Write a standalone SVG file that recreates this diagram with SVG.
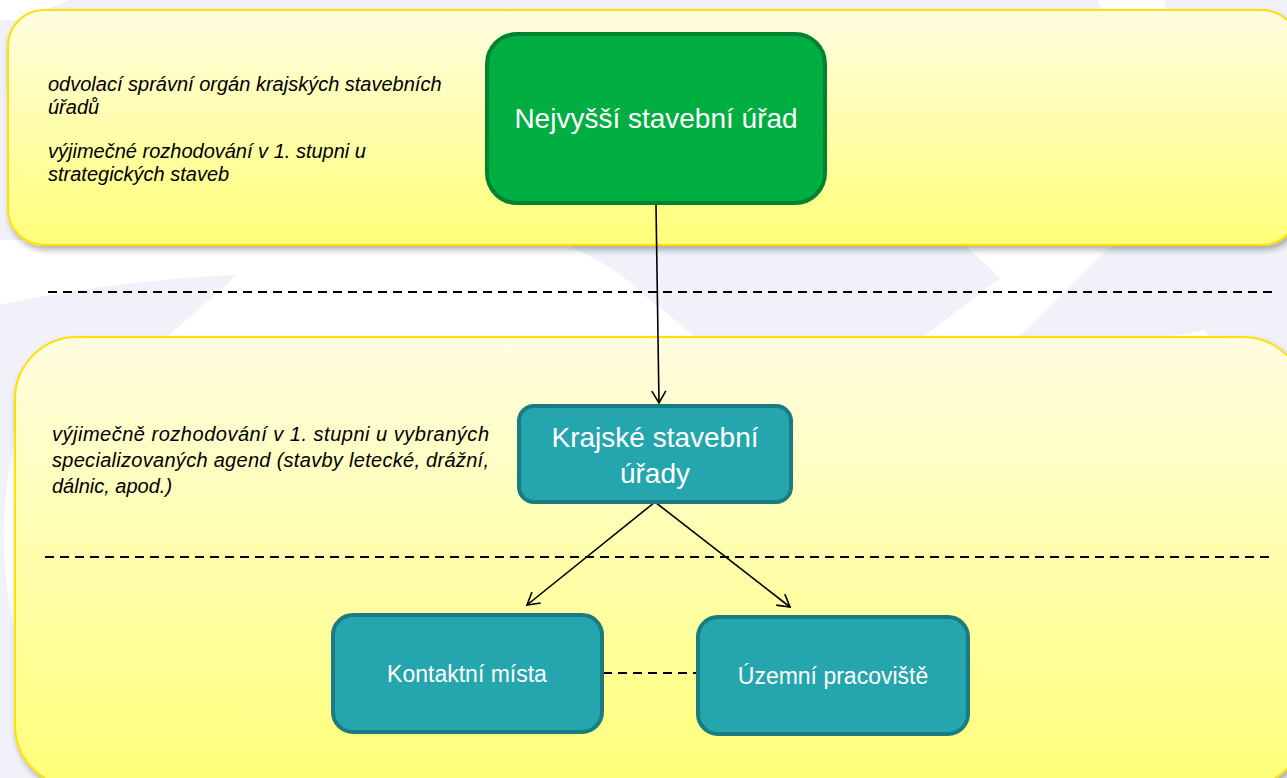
<svg xmlns="http://www.w3.org/2000/svg" width="1287" height="778" viewBox="0 0 1287 778">
<defs>
<linearGradient id="yel" x1="0" y1="0" x2="0" y2="1">
<stop offset="0" stop-color="#fffde0"/>
<stop offset="1" stop-color="#ffff78"/>
</linearGradient>
<filter id="sh" x="-5%" y="-5%" width="110%" height="115%">
<feDropShadow dx="2" dy="4" stdDeviation="3" flood-color="#000" flood-opacity="0.3"/>
</filter>
<marker id="arr" markerWidth="16" markerHeight="16" refX="13" refY="8" orient="auto" markerUnits="userSpaceOnUse">
<path d="M1,1 L13,8 L1,15" fill="none" stroke="#000" stroke-width="1.6"/>
</marker>
<style>
.band{fill:url(#yel);stroke:#ffe000;stroke-width:2;filter:url(#sh)}
.teal{fill:#25a6ae;stroke:#1a7c80;stroke-width:4}
.wt{fill:#fff;font-family:"Liberation Sans",Arial,sans-serif;text-anchor:middle}
.it{fill:#000;font-family:"Liberation Sans",Arial,sans-serif;font-style:italic;font-size:20px}
.dash{stroke:#000;stroke-width:2;stroke-dasharray:9,6;fill:none}
.conn{stroke:#000;stroke-width:1.6;fill:none}
</style>
</defs>
<rect width="1287" height="778" fill="#f0f1f9"/>
<g id="background" fill="#ffffff">
<path d="M0,240 L555,240 C600,258 630,280 640,292 C670,315 700,340 730,370 L130,370 L237,275 C150,278 60,292 0,305 Z"/>
<path d="M960,240 L1117,240 L985,370 L880,370 L1000,278 Z"/>
<path d="M1090,370 C1130,335 1160,340 1205,330 C1210,345 1225,350 1245,370 Z"/>
<path d="M0,0 L70,0 L20,20 L0,20 Z"/>
<path d="M1098,0 L1164,0 L1170,20 L1105,20 Z"/>
<path d="M15,440 C0,500 0,570 15,630 Z"/>
</g>
<g id="band-top"><rect class="band" x="8" y="10" width="1290" height="235" rx="36"/></g>
<g id="band-bottom"><rect class="band" x="15" y="337" width="1290" height="450" rx="62"/></g>
<g id="separators">
<line class="dash" x1="48" y1="292" x2="1276" y2="292"/>
<line class="dash" x1="45" y1="557" x2="1272" y2="557"/>
</g>
<g id="note-top">
<text class="it" x="48" y="91">odvolací správní orgán krajských stavebních</text>
<text class="it" x="48" y="114">úřadů</text>
<text class="it" x="48" y="158">výjimečné rozhodování v 1. stupni u</text>
<text class="it" x="48" y="181">strategických staveb</text>
</g>
<g id="note-bottom">
<text class="it" x="52" y="441" textLength="437" lengthAdjust="spacing">výjimečně rozhodování v 1. stupni u vybraných</text>
<text class="it" x="52" y="467" textLength="437" lengthAdjust="spacing">specializovaných agend (stavby letecké, drážní,</text>
<text class="it" x="52" y="493">dálnic, apod.)</text>
</g>
<g id="connectors">
<line class="conn" x1="656" y1="205" x2="659" y2="403" marker-end="url(#arr)"/>
<line class="conn" x1="655" y1="502" x2="527" y2="605" marker-end="url(#arr)"/>
<line class="conn" x1="655" y1="502" x2="790" y2="607" marker-end="url(#arr)"/>
<line class="dash" x1="603" y1="673" x2="697" y2="673" stroke-width="1.6" stroke-dasharray="7,5"/>
</g>
<g id="node-nsu">
<rect x="487" y="34" width="338" height="169" rx="30" fill="#00ae41" stroke="#00832f" stroke-width="4"/>
<text class="wt" x="656" y="128" font-size="28">Nejvyšší stavební úřad</text>
</g>
<g id="node-ksu">
<rect class="teal" x="519" y="406" width="272" height="96" rx="15"/>
<text class="wt" x="655" y="447" font-size="28">Krajské stavební</text>
<text class="wt" x="655" y="483" font-size="28">úřady</text>
</g>
<g id="node-km">
<rect class="teal" x="333" y="615" width="269" height="117" rx="20"/>
<text class="wt" x="467" y="682" font-size="23">Kontaktní místa</text>
</g>
<g id="node-up">
<rect class="teal" x="698" y="617" width="270" height="117" rx="20"/>
<text class="wt" x="833" y="684" font-size="23">Územní pracoviště</text>
</g>
</svg>
